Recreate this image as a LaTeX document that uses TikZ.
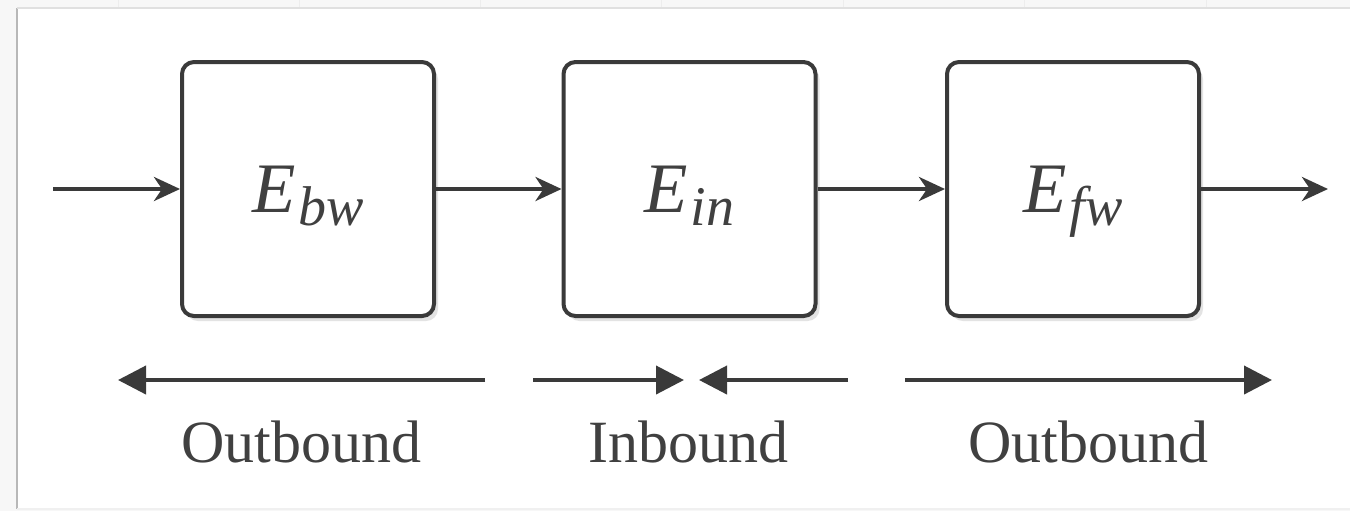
\documentclass[tikz,border=0pt]{standalone}
\usepackage{fontspec}
\setmainfont{Liberation Serif}
\usetikzlibrary{arrows.meta,shadows}
\definecolor{ink}{HTML}{3A3A3A}
\definecolor{txt}{HTML}{404040}
\newcommand{\Elab}[1]{{\fontsize{35.5}{40}\selectfont\itshape E}\kern1.5pt\raisebox{-6.5pt}{\fontsize{28}{32}\selectfont\itshape #1}}
\begin{document}
\begin{tikzpicture}[x=0.5pt,y=-0.5pt,
  block/.style={draw=ink, line width=2pt, fill=white, rounded corners=6pt,
    minimum width=126pt, minimum height=127pt, inner sep=0pt,
    text height=23pt, text depth=0pt, text=txt,
    drop shadow={shadow xshift=2pt, shadow yshift=-2.5pt, opacity=0.22}},
  flow/.style={draw=ink, line width=2pt, -{Stealth[length=13pt,width=12pt,inset=4pt]}},
  dirarrow/.style={draw=ink, line width=2pt, -{Triangle[length=14pt,width=14pt]}},
  caption/.style={anchor=base, text=txt, font=\fontsize{30}{36}\selectfont, inner sep=0pt}]
\useasboundingbox (0,0) rectangle (1350,511);
\fill[black!3] (0,0) rectangle (1350,511);
\foreach \x in {118,299,480,661,843,1024,1206} \draw[black!7, line width=0.5pt] (\x,0) -- (\x,8);
\fill[white] (17,8) rectangle (1350,509);
\draw[black!28, line width=1.2pt] (17,509) -- (17,8);
\draw[black!12, line width=1pt] (17,8) -- (1350,8);
\draw[black!6, line width=0.8pt] (17,509) -- (1350,509);

\node[block] (bw) at (308,189) {\Elab{bw}};
\node[block] (in) at (689.5,189) {\Elab{in}};
\node[block] (fw) at (1073,189) {\Elab{fw}};

\coordinate (src) at (53,189);
\coordinate (snk) at (1328,189);
\draw[flow] (src) -- (bw.west);
\draw[flow] (bw.east) -- (in.west);
\draw[flow] (in.east) -- (fw.west);
\draw[flow] (fw.east) -- (snk);

\coordinate (o1s) at (485,380);
\coordinate (o1e) at (118,380);
\coordinate (i1s) at (533,380);
\coordinate (i1e) at (684,380);
\coordinate (i2s) at (848,380);
\coordinate (i2e) at (699,380);
\coordinate (o2s) at (905,380);
\coordinate (o2e) at (1272,380);
\draw[dirarrow] (o1s) -- (o1e);
\draw[dirarrow] (i1s) -- (i1e);
\draw[dirarrow] (i2s) -- (i2e);
\draw[dirarrow] (o2s) -- (o2e);

\node[caption] (cap1) at (301,462) {Outbound};
\node[caption] (cap2) at (688.5,462) {Inbound};
\node[caption] (cap3) at (1088,462) {Outbound};
\end{tikzpicture}
\end{document}
